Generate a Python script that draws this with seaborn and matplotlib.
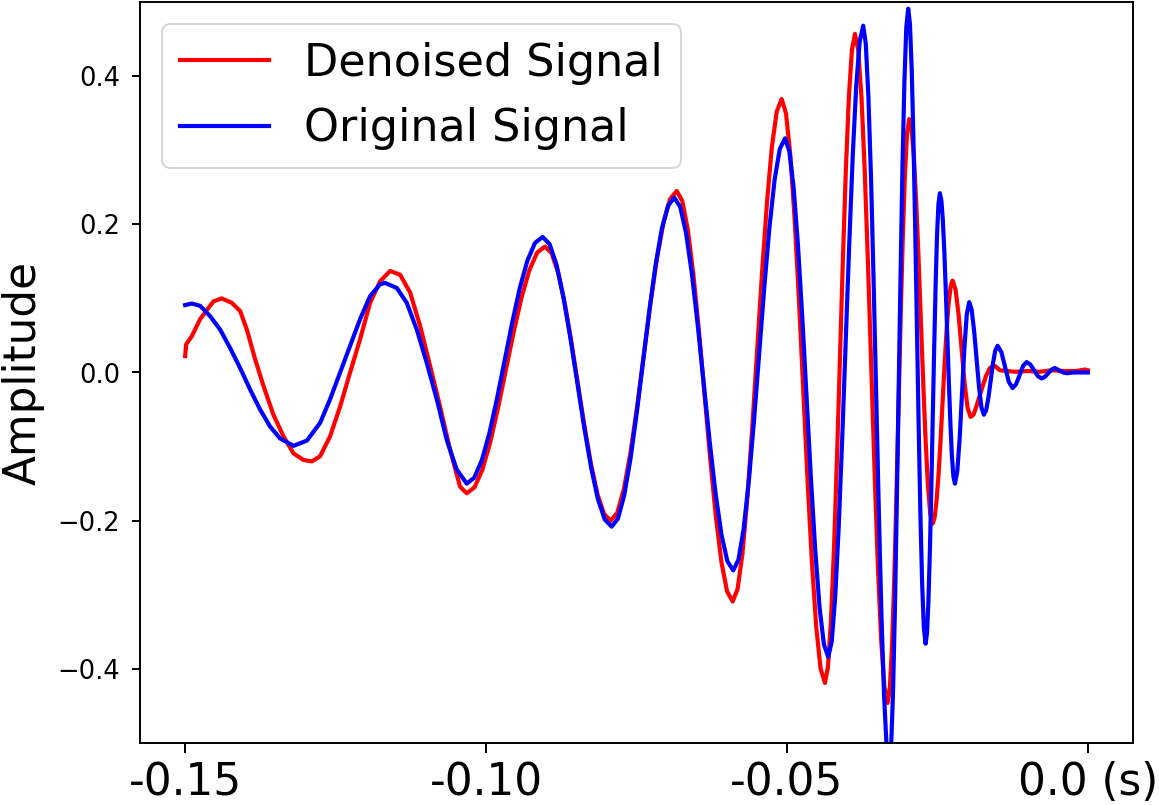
import matplotlib
matplotlib.use("Agg")
import matplotlib.pyplot as plt
import seaborn as sns
import pandas as pd

# ---------------- data ----------------
original_time = [
    -0.15000, -0.14889, -0.14751, -0.14585, -0.14419, -0.14252, -0.14086, -0.13920,
    -0.13754, -0.13588, -0.13422, -0.13201, -0.12978, -0.12757, -0.12591, -0.12425,
    -0.12259, -0.12093, -0.11927, -0.11761, -0.11678, -0.11483, -0.11317, -0.11151,
    -0.10985, -0.10819, -0.10653, -0.10487, -0.10321,
    -0.10195, -0.10069, -0.09943, -0.09817, -0.09691, -0.09564, -0.09438, -0.09312, -0.09186, -0.09060,
    -0.08945, -0.08830, -0.08716, -0.08601, -0.08486, -0.08371, -0.08256, -0.08142, -0.08027, -0.07912,
    -0.07808, -0.07704, -0.07600, -0.07496, -0.07392, -0.07288, -0.07184, -0.07080, -0.06976, -0.06872,
    -0.06774, -0.06676, -0.06578, -0.06480, -0.06382, -0.06284, -0.06186, -0.06088, -0.05990, -0.05892,
    -0.05806, -0.05720, -0.05634, -0.05548, -0.05463, -0.05377, -0.05291, -0.05205, -0.05119, -0.05033,
    -0.04961, -0.04889, -0.04817, -0.04745, -0.04674, -0.04602, -0.04530, -0.04458, -0.04386, -0.04314,
    -0.04256, -0.04198, -0.04140, -0.04082, -0.04024, -0.03965, -0.03907, -0.03849, -0.03791, -0.03733,
    -0.03690, -0.03647, -0.03603, -0.03560, -0.03517, -0.03474, -0.03431, -0.03387, -0.03344, -0.03301,
    -0.03269, -0.03238, -0.03206, -0.03175, -0.03143, -0.03111, -0.03080, -0.03048, -0.03017, -0.02985,
    -0.02956, -0.02927, -0.02898, -0.02869, -0.02841, -0.02812, -0.02783, -0.02754, -0.02725, -0.02696,
    -0.02672, -0.02649, -0.02625, -0.02601, -0.02578, -0.02554, -0.02530, -0.02507, -0.02483, -0.02459,
    -0.02434, -0.02409, -0.02384, -0.02359, -0.02334, -0.02309, -0.02284, -0.02259, -0.02234, -0.02209,
    -0.02170, -0.02130, -0.02091, -0.02051, -0.02012, -0.01972,
    -0.01931, -0.01891, -0.01850, -0.01809, -0.01769, -0.01728,
    -0.01690, -0.01652, -0.01614, -0.01576, -0.01538, -0.01500,
    -0.01438, -0.01376, -0.01313, -0.01251,
    -0.01193, -0.01135, -0.01076, -0.01018,
    -0.00956, -0.00894, -0.00831, -0.00769,
    -0.00714, -0.00659, -0.00603, -0.00548,
    -0.00480, -0.00410, -0.00340, -0.00250, -0.00100, 0.00000,
]
original_amp = [
    0.091, 0.093, 0.090, 0.076, 0.058, 0.033, 0.006, -0.023,
    -0.050, -0.073, -0.089, -0.099, -0.092, -0.068, -0.036, 0.000,
    0.036, 0.072, 0.103, 0.119, 0.121, 0.114, 0.094, 0.058,
    0.013, -0.036, -0.091, -0.131, -0.150,
    -0.1419, -0.1182, -0.0814, -0.0349, 0.0165, 0.0679, 0.1144, 0.1512, 0.1749, 0.183,
    0.1734, 0.1457, 0.1024, 0.0479, -0.0125, -0.0729, -0.1274, -0.1707, -0.1984, -0.208,
    -0.1971, -0.1656, -0.1165, -0.0546, 0.0140, 0.0826, 0.1445, 0.1936, 0.2251, 0.236,
    0.2237, 0.1880, 0.1323, 0.0622, -0.0155, -0.0932, -0.1633, -0.2190, -0.2547, -0.267,
    -0.2527, -0.2113, -0.1468, -0.0656, 0.0245, 0.1146, 0.1958, 0.2603, 0.3017, 0.316,
    0.2989, 0.2492, 0.1717, 0.0742, -0.0340, -0.1422, -0.2397, -0.3172, -0.3669, -0.384,
    -0.3632, -0.3026, -0.2084, -0.0896, 0.0420, 0.1736, 0.2924, 0.3866, 0.4472, 0.468,
    0.4436, 0.3727, 0.2623, 0.1232, -0.0310, -0.1852, -0.3243, -0.4347, -0.5056, -0.530,
    -0.5050, -0.4325, -0.3196, -0.1772, -0.0195, 0.1382, 0.2806, 0.3935, 0.4660, 0.491,
    0.4700, 0.4092, 0.3144, 0.1949, 0.0625, -0.0699, -0.1894, -0.2842, -0.3450, -0.366,
    -0.3511, -0.3079, -0.2407, -0.1559, -0.0620, 0.0319, 0.1167, 0.1839, 0.2271, 0.242,
    0.2324, 0.2046, 0.1612, 0.1066, 0.0460, -0.0146, -0.0692, -0.1126, -0.1404, -0.150,
    -0.1336, -0.0888, -0.0275, 0.0338, 0.0786, 0.095,
    0.0848, 0.057, 0.019, -0.019, -0.0468, -0.057,
    -0.0508, -0.0338, -0.0105, 0.0128, 0.0298, 0.036,
    0.0277, 0.0075, -0.0127, -0.021,
    -0.0159, -0.0035, 0.0089, 0.014,
    0.0108, 0.003, -0.0048, -0.008,
    -0.0059, -0.001, 0.004, 0.006,
    0.003, 0.000, -0.001, 0.000, 0.000, 0.000,
]

denoised_time = [
    -0.15000, -0.14983, -0.14889, -0.14751, -0.14530, -0.14390, -0.14224, -0.14086,
    -0.13975, -0.13837, -0.13699, -0.13533, -0.13367, -0.13201, -0.13035, -0.12895,
    -0.12757, -0.12591, -0.12425, -0.12259, -0.12093, -0.11927, -0.11761, -0.11595,
    -0.11429, -0.11262, -0.11096, -0.10930, -0.10764, -0.10598, -0.10432, -0.10321,
    -0.10191, -0.10061, -0.09931, -0.09801, -0.09671, -0.09540, -0.09410, -0.09280, -0.09150, -0.09020,
    -0.08911, -0.08802, -0.08693, -0.08584, -0.08475, -0.08365, -0.08256, -0.08147, -0.08038, -0.07929,
    -0.07819, -0.07710, -0.07600, -0.07490, -0.07381, -0.07271, -0.07161, -0.07051, -0.06942, -0.06832,
    -0.06739, -0.06646, -0.06553, -0.06460, -0.06367, -0.06274, -0.06181, -0.06088, -0.05995, -0.05902,
    -0.05821, -0.05739, -0.05658, -0.05577, -0.05495, -0.05414, -0.05332, -0.05251, -0.05169, -0.05088,
    -0.05016, -0.04944, -0.04872, -0.04800, -0.04729, -0.04657, -0.04585, -0.04513, -0.04441, -0.04369,
    -0.04319, -0.04269, -0.04219, -0.04169, -0.04120, -0.04070, -0.04020, -0.03970, -0.03920, -0.03870,
    -0.03816, -0.03761, -0.03707, -0.03653, -0.03599, -0.03544, -0.03490, -0.03436, -0.03381, -0.03327,
    -0.03291, -0.03255, -0.03219, -0.03183, -0.03148, -0.03112, -0.03076, -0.03040, -0.03004, -0.02968,
    -0.02929, -0.02890, -0.02852, -0.02813, -0.02774, -0.02735, -0.02696, -0.02658, -0.02619, -0.02580,
    -0.02547, -0.02514, -0.02480, -0.02447, -0.02414, -0.02381, -0.02348, -0.02314, -0.02281, -0.02248,
    -0.02198, -0.02148, -0.02099, -0.02049, -0.01999, -0.01949,
    -0.01900, -0.01849, -0.01766, -0.01694, -0.01628, -0.01545, -0.01462, -0.01351,
    -0.01200, -0.01000, -0.00800, -0.00600, -0.00400, -0.00200, -0.00050, 0.00000,
]
denoised_amp = [
    0.022, 0.038, 0.049, 0.072, 0.096, 0.100, 0.094, 0.083,
    0.058, 0.018, -0.018, -0.057, -0.086, -0.109, -0.118, -0.120,
    -0.113, -0.086, -0.046, 0.000, 0.045, 0.094, 0.123, 0.137,
    0.132, 0.108, 0.063, 0.009, -0.046, -0.104, -0.154, -0.163,
    -0.1549, -0.1312, -0.0944, -0.0479, 0.0035, 0.0549, 0.1014, 0.1382, 0.1619, 0.170,
    0.1610, 0.1347, 0.0937, 0.0422, -0.0150, -0.0722, -0.1237, -0.1647, -0.1910, -0.200,
    -0.1891, -0.1575, -0.1083, -0.0463, 0.0225, 0.0913, 0.1533, 0.2025, 0.2341, 0.245,
    0.2314, 0.1921, 0.1308, 0.0536, -0.0320, -0.1176, -0.1948, -0.2561, -0.2954, -0.309,
    -0.2924, -0.2443, -0.1693, -0.0748, 0.0300, 0.1348, 0.2293, 0.3043, 0.3524, 0.369,
    0.3497, 0.2937, 0.2066, 0.0967, -0.0250, -0.1467, -0.2566, -0.3437, -0.3997, -0.419,
    -0.3976, -0.3353, -0.2385, -0.1163, 0.0190, 0.1543, 0.2765, 0.3733, 0.4356, 0.457,
    0.4349, 0.3708, 0.2709, 0.1450, 0.0055, -0.1340, -0.2599, -0.3598, -0.4239, -0.446,
    -0.4267, -0.3707, -0.2836, -0.1737, -0.0520, 0.0697, 0.1796, 0.2667, 0.3227, 0.342,
    0.3286, 0.2899, 0.2295, 0.1534, 0.0690, -0.0154, -0.0915, -0.1519, -0.1906, -0.204,
    -0.1960, -0.1727, -0.1364, -0.0907, -0.0400, 0.0107, 0.0564, 0.0927, 0.1160, 0.124,
    0.1117, 0.078, 0.032, -0.014, -0.0477, -0.060,
    -0.057, -0.045, -0.023, -0.005, 0.006, 0.009, 0.003, 0.002,
    0.001, 0.002, 0.001, 0.003, 0.002, 0.002, 0.004, 0.003,
]

series_labels = ["Denoised Signal", "Original Signal"]
series_colors = ["red", "blue"]
xtick_values = [-0.15, -0.10, -0.05, 0.0]
xtick_labels = ["-0.15", "-0.10", "-0.05", "0.0 (s)"]
ytick_values = [-0.4, -0.2, 0.0, 0.2, 0.4]
y_label = "Amplitude"

# ---------------- figure ----------------
W, H = 1159, 805
fig = plt.figure(figsize=(W / 100, H / 100), dpi=100)
ax = fig.add_axes([140 / W, 1 - 743 / H, (1133 - 140) / W, (743 - 2) / H])

df_den = pd.DataFrame({"t": denoised_time, "a": denoised_amp})
df_org = pd.DataFrame({"t": original_time, "a": original_amp})

sns.lineplot(data=df_den, x="t", y="a", ax=ax, color=series_colors[0],
             label=series_labels[0], linewidth=3.0, estimator=None)
sns.lineplot(data=df_org, x="t", y="a", ax=ax, color=series_colors[1],
             label=series_labels[1], linewidth=3.0, estimator=None)

ax.set_ylim(-0.5, 0.5)
ax.set_xlim(-0.1575, 0.0075)
ax.set_xticks(xtick_values)
ax.set_xticklabels(xtick_labels, fontsize=31.5)
ax.set_yticks(ytick_values)
ax.tick_params(axis="y", labelsize=18.5, length=5.8, width=1.4, pad=8.5)
ax.tick_params(axis="x", length=7, width=1.4, pad=6)
for sp in ax.spines.values():
    sp.set_linewidth(1.4)
ax.set_xlabel("")
ax.set_ylabel(y_label, fontsize=31.5, labelpad=9)

leg = ax.legend(loc="upper left", fontsize=32)
leg.get_frame().set_linewidth(1.4)
for line in leg.get_lines():
    line.set_linewidth(3.0)

fig.savefig("out.png", dpi=100)
